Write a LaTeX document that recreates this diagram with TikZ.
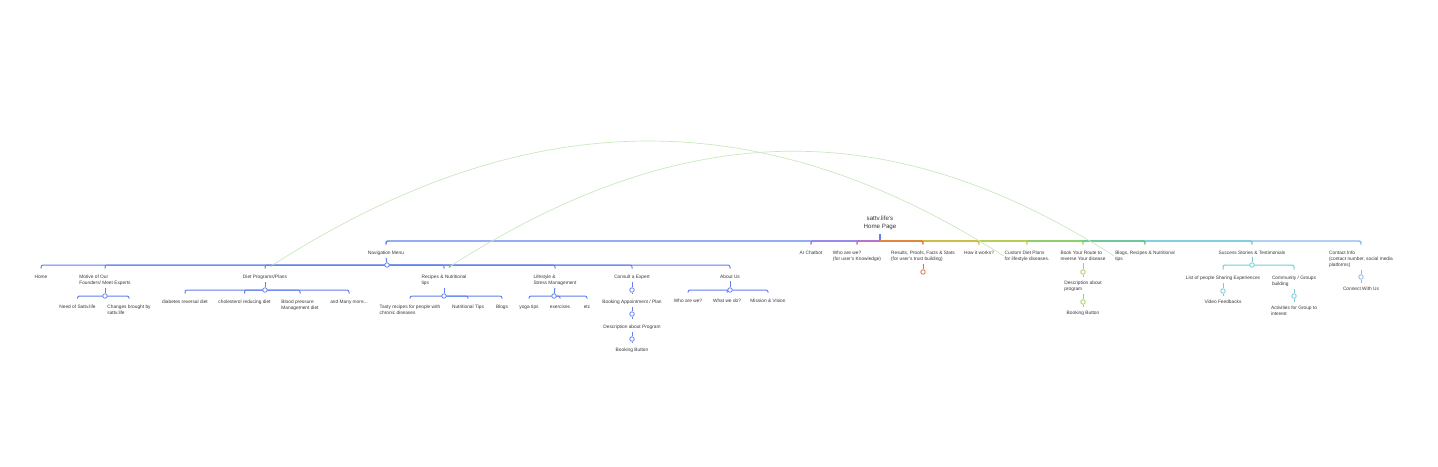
\documentclass[tikz,border=0pt]{standalone}
\usepackage{fontspec}
\setmainfont{Liberation Sans}
\usetikzlibrary{arrows.meta}

\definecolor{txtgray}{RGB}{55,55,60}
\definecolor{navcol}{RGB}{96,128,240}
\definecolor{aicol}{RGB}{150,120,230}
\definecolor{whocol}{RGB}{205,105,180}
\definecolor{rescol}{RGB}{232,108,62}
\definecolor{howcol}{RGB}{222,178,60}
\definecolor{custcol}{RGB}{205,205,75}
\definecolor{bookcol}{RGB}{160,212,80}
\definecolor{blogcol}{RGB}{100,195,120}
\definecolor{succcol}{RGB}{110,205,215}
\definecolor{contcol}{RGB}{130,185,240}
\definecolor{curvcol}{RGB}{200,232,190}
\definecolor{tipcol}{RGB}{120,200,100}

\begin{document}
\begin{tikzpicture}[x=1pt,y=-1pt,
  lbl/.style={font=\fontsize{4.8}{6}\selectfont, text=txtgray, align=left, inner sep=1pt, anchor=north},
  dot/.style={circle, draw, fill=white, line width=0.8pt, minimum size=4.5pt, inner sep=0pt},
  toplink/.style={line width=1.4pt, rounded corners=2pt, shorten >=5pt},
  link/.style={line width=1pt, rounded corners=2pt, shorten >=5pt},
  stem/.style={line width=1pt, shorten <=1.5pt},
  cross/.style={draw=curvcol, line width=0.7pt, -{Latex[length=3pt,width=2.5pt,color=tipcol]}}]

\useasboundingbox (0,0) rectangle (1438,466);

% root
\node[lbl, font=\fontsize{6.2}{8}\selectfont, align=center, anchor=south] (root) at (880,230.5) {sattv.life's\\Home Page};
\coordinate (rootbar) at (880,241);

% first level
\node[lbl] (nav) at (386,249.5) {Navigation Menu};
\node[lbl] (ai) at (811,249.5) {AI Chatbot};
\node[lbl] (who) at (857,249.5) {Who are we?\\(for user's Knowledge)};
\node[lbl] (res) at (923,249.5) {Results, Proofs, Facts \& Stats\\(for user's trust building)};
\node[lbl] (how) at (979,249.5) {How it works?};
\node[lbl] (cust) at (1027,249.5) {Custom Diet Plans\\for lifestyle diseases.};
\node[lbl] (book) at (1083,249.5) {Book Your Route to\\reverse Your disease};
\node[lbl] (blog) at (1145,249.5) {Blogs, Recipes \& Nutritional\\tips};
\node[lbl] (succ) at (1252,249.5) {Success Stories \& Testimonials};
\node[lbl] (cont) at (1361,249.5) {Contact Info\\(contact number, social media\\platforms)};

\draw[line width=1.4pt, navcol, shorten >=3.5pt] (rootbar) -- (root.south);
\draw[toplink, navcol] (rootbar) -| (nav.north);
\draw[toplink, aicol] (rootbar) -| (ai.north);
\draw[toplink, whocol] (rootbar) -| (who.north);
\draw[toplink, contcol] (rootbar) -| (cont.north);
\draw[toplink, succcol] (rootbar) -| (succ.north);
\draw[toplink, blogcol] (rootbar) -| (blog.north);
\draw[toplink, bookcol] (rootbar) -| (book.north);
\draw[toplink, custcol] (rootbar) -| (cust.north);
\draw[toplink, howcol] (rootbar) -| (how.north);
\draw[toplink, rescol] (rootbar) -| (res.north);

% navigation menu
\node[lbl] (home) at (41,273.7) {Home};
\node[lbl] (motive) at (105,273.7) {Motive of Our\\Founders/ Meet Experts};
\node[lbl] (diet) at (265,273.7) {Diet Programs/Plans};
\node[lbl] (recipe) at (444,273.7) {Recipes \& Nutritional\\tips};
\node[lbl] (life) at (555,273.7) {Lifestyle \&\\Stress Management};
\node[lbl] (consult) at (632,273.7) {Consult a Expert};
\node[lbl] (about) at (730,273.7) {About Us};

\draw[link, navcol] (387,265) -| (home.north);
\draw[link, navcol] (387,265) -| (motive.north);
\draw[link, navcol] (387,265) -| (diet.north);
\draw[link, navcol] (387,265) -| (recipe.north);
\draw[link, navcol] (387,265) -| (life.north);
\draw[link, navcol] (387,265) -| (consult.north);
\draw[link, navcol] (387,265) -| (about.north);
\node[dot, draw=navcol] (navdot) at (387,265) {};
\draw[stem, navcol] (nav.south) -- (navdot);

% motive
\node[lbl] (need) at (77.5,303.7) {Need of Sattv.life};
\node[lbl] (changes) at (129,303.7) {Changes brought by\\sattv.life};
\draw[link, navcol] (105,296) -| (need.north);
\draw[link, navcol] (105,296) -| (changes.north);
\node[dot, draw=navcol] (motivedot) at (105,296) {};
\draw[stem, navcol] (motive.south) -- (motivedot);

% diet programs
\node[lbl] (diabetes) at (185,298.7) {diabetes reversal diet};
\node[lbl] (chol) at (244.5,298.7) {cholesterol reducing diet};
\node[lbl] (blood) at (300,298.7) {Blood pressure\\Management diet};
\node[lbl] (more) at (349,298.7) {and Many more...};
\draw[link, navcol] (265,290) -| (diabetes.north);
\draw[link, navcol] (265,290) -| (chol.north);
\draw[link, navcol] (265,290) -| (blood.north);
\draw[link, navcol] (265,290) -| (more.north);
\node[dot, draw=navcol] (dietdot) at (265,290) {};
\draw[stem, navcol] (diet.south) -- (dietdot);

% recipes
\node[lbl] (tasty) at (410,303.7) {Tasty recipes for people with\\chronic diseases};
\node[lbl] (nutri) at (468,303.7) {Nutritional Tips};
\node[lbl] (blogs) at (502,303.7) {Blogs};
\draw[link, navcol] (444,296) -| (tasty.north);
\draw[link, navcol] (444,296) -| (nutri.north);
\draw[link, navcol] (444,296) -| (blogs.north);
\node[dot, draw=navcol] (recipedot) at (444,296) {};
\draw[stem, navcol] (recipe.south) -- (recipedot);

% lifestyle
\node[lbl] (yoga) at (529,303.7) {yoga tips};
\node[lbl] (exer) at (560,303.7) {exercises};
\node[lbl] (etc) at (587,303.7) {etc};
\draw[link, navcol] (554,296) -| (yoga.north);
\draw[link, navcol] (554,296) -| (exer.north);
\draw[link, navcol] (554,296) -| (etc.north);
\node[dot, draw=navcol] (lifedot) at (554,296) {};
\draw[stem, navcol] (life.south) -- (lifedot);

% consult
\node[dot, draw=navcol] (consultdot) at (632,290) {};
\node[lbl] (appoint) at (632,298.7) {Booking Appointment / Plan};
\node[dot, draw=navcol] (appointdot) at (632,314) {};
\node[lbl] (descprog) at (632,323.7) {Description about Program};
\node[dot, draw=navcol] (descdot) at (632,339) {};
\node[lbl] (bookbtn) at (632,346.7) {Booking Button};
\draw[stem, navcol] (consult.south) -- (consultdot);
\draw[link, navcol] (consultdot) -- (appoint.north);
\draw[stem, navcol] (appoint.south) -- (appointdot);
\draw[link, navcol] (appointdot) -- (descprog.north);
\draw[stem, navcol] (descprog.south) -- (descdot);
\draw[link, navcol] (descdot) -- (bookbtn.north);

% about us
\node[lbl] (whowe) at (688,297.7) {Who are we?};
\node[lbl] (whatdo) at (727,297.7) {What we do?};
\node[lbl] (mission) at (768,297.7) {Mission \& Vision};
\draw[link, navcol] (730,290) -| (whowe.north);
\draw[link, navcol] (730,290) -| (whatdo.north);
\draw[link, navcol] (730,290) -| (mission.north);
\node[dot, draw=navcol] (aboutdot) at (730,290) {};
\draw[stem, navcol] (about.south) -- (aboutdot);

% results
\node[dot, draw=rescol] (resdot) at (923,272) {};
\draw[stem, rescol] (res.south) -- (resdot);

% book your route
\node[dot, draw=bookcol] (bookdot) at (1083,272) {};
\node[lbl] (descbook) at (1083,279.7) {Description about\\program};
\node[dot, draw=bookcol] (descbookdot) at (1083,302) {};
\node[lbl] (bookbtn2) at (1083,309.7) {Booking Button};
\draw[stem, bookcol] (book.south) -- (bookdot);
\draw[link, bookcol, shorten >=3pt] (bookdot) -- (descbook.north);
\draw[stem, bookcol] (descbook.south) -- (descbookdot);
\draw[link, bookcol, shorten >=3pt] (descbookdot) -- (bookbtn2.north);

% success stories
\node[lbl] (list) at (1223,274.7) {List of people Sharing Experiences};
\node[lbl] (comm) at (1294,274.7) {Community / Groups\\building};
\draw[link, succcol] (1252,265) -| (list.north);
\draw[link, succcol] (1252,265) -| (comm.north);
\node[dot, draw=succcol] (succdot) at (1252,265) {};
\draw[stem, succcol] (succ.south) -- (succdot);
\node[dot, draw=succcol] (listdot) at (1223,291) {};
\node[lbl] (video) at (1223,298.7) {Video Feedbacks};
\draw[stem, succcol] (list.south) -- (listdot);
\draw[link, succcol, shorten >=3pt] (listdot) -- (video.north);
\node[dot, draw=succcol] (commdot) at (1294,296) {};
\node[lbl] (activ) at (1294,304.7) {Activities for Group to\\interest};
\draw[stem, succcol] (comm.south) -- (commdot);
\draw[link, succcol, shorten >=3pt] (commdot) -- (activ.north);

% contact
\node[dot, draw=contcol] (contdot) at (1361,277) {};
\node[lbl] (connect) at (1361,285.7) {Connect With Us};
\draw[stem, contcol] (cont.south) -- (contdot);
\draw[link, contcol, shorten >=3pt] (contdot) -- (connect.north);

% cross links
\draw[cross] (cust.west) .. controls +(-250,-160) and +(250,-160) .. ([shift={(5,-7)}]diet.north);
\draw[cross] (blog.west) .. controls +(-230,-147) and +(230,-147) .. ([shift={(4,-6)}]recipe.north);

\end{tikzpicture}
\end{document}
